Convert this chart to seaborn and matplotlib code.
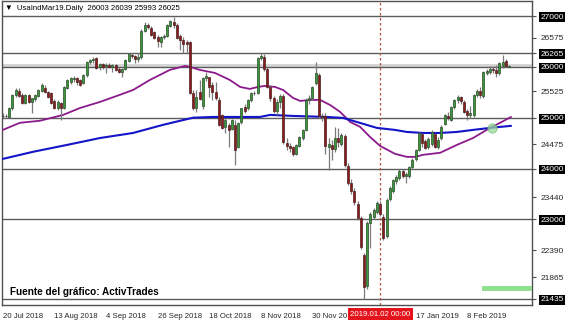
import numpy as np
import pandas as pd
import matplotlib
matplotlib.use("Agg")
import matplotlib.pyplot as plt
import seaborn as sns
from matplotlib.patches import Rectangle
from matplotlib.transforms import blended_transform_factory

# ---------------- data ----------------
opens = [25030, 25040, 25020, 25190, 25440, 25530, 25440, 25290, 25440, 25310,
         25360, 25430, 25520, 25590, 25500, 25480, 25320, 25200, 25280, 25200,
         25590, 25700, 25770, 25790, 25740, 25680, 25830, 26090, 26130, 26170,
         25990, 26050, 26010, 26040, 26000, 26030, 25960, 25900, 25960, 26120,
         26240, 26210, 26150, 26200, 26710, 26820, 26770, 26680, 26580, 26490,
         26580, 26600, 26800, 26880, 26830, 26600, 26520, 26480, 26480, 25480,
         25200, 25500, 25230, 25780, 25800, 25640, 25510, 25350, 25050, 24820,
         24860, 24780, 24860, 24420, 24920, 25210, 25190, 25340, 25490, 25480,
         26170, 26200, 25960, 25610, 25380, 25140, 25310, 25420, 24510, 24450,
         24420, 24290, 24450, 24610, 24760, 25350, 25380, 25690, 25840, 25030,
         25040, 24420, 24470, 24380, 24600, 24480, 24640, 24050, 23720, 23560,
         23300, 23020, 22300, 21700, 22920, 23050, 23150, 23300, 23050, 22680,
         23400, 23560, 23760, 23820, 23950, 23860, 23850, 24030, 24180, 24360,
         24680, 24540, 24420, 24480, 24680, 24430, 24600, 24880, 25040, 24960,
         25210, 25350, 25400, 25310, 25140, 25050, 25060, 25440, 25530, 25430,
         25880, 25900, 25960, 25930, 25880, 26020, 26120, 26003]
highs = [25090, 25080, 25210, 25470, 25580, 25590, 25480, 25460, 25470, 25390,
         25470, 25570, 25680, 25640, 25530, 25510, 25360, 25350, 25310, 25620,
         25770, 25800, 25820, 25810, 25770, 25860, 26110, 26160, 26190, 26190,
         26080, 26070, 26080, 26070, 26060, 26060, 26000, 25980, 26150, 26270,
         26270, 26240, 26280, 26740, 26880, 26860, 26800, 26700, 26630, 26600,
         26640, 26840, 26920, 26980, 26860, 26640, 26580, 26530, 26500, 25540,
         25540, 25740, 25800, 25900, 25800, 25700, 25700, 25400, 25080, 25000,
         24900, 24980, 24950, 24920, 25200, 25260, 25360, 25510, 25520, 26200,
         26270, 26250, 26000, 25640, 25420, 25360, 25470, 25460, 24600, 24500,
         24450, 24480, 24640, 24780, 25380, 25440, 25620, 26100, 25880, 25100,
         25100, 24600, 24560, 24820, 24800, 24700, 24680, 24100, 23800, 23620,
         23360, 23060, 22340, 22960, 23140, 23220, 23360, 23360, 23100, 23420,
         23660, 23800, 23870, 23990, 24000, 23940, 24050, 24200, 24380, 24720,
         24700, 24580, 24620, 24760, 24700, 24620, 24850, 25080, 25110, 25240,
         25370, 25440, 25420, 25340, 25180, 25230, 25470, 25570, 25610, 25920,
         25960, 26010, 26020, 26040, 26090, 26230, 26160, 26039]
lows = [24990, 25000, 24990, 25150, 25400, 25400, 25260, 25270, 25280, 25100,
        25330, 25400, 25500, 25480, 25380, 25270, 25170, 25150, 24960, 25180,
        25560, 25660, 25700, 25640, 25620, 25660, 25800, 26050, 26080, 25950,
        25930, 25960, 25880, 25970, 25900, 25920, 25880, 25800, 25940, 26100,
        26170, 26070, 26100, 26160, 26690, 26740, 26600, 26540, 26400, 26390,
        26540, 26580, 26780, 26760, 26540, 26330, 26270, 26270, 25460, 25150,
        25110, 25340, 25170, 25730, 25410, 25350, 25350, 24840, 24780, 24700,
        24430, 24760, 24070, 24400, 24880, 25100, 25150, 25310, 25440, 25470,
        26130, 25920, 25580, 25330, 25100, 25050, 25200, 24490, 24370, 24330,
        24250, 24260, 24420, 24560, 24740, 25270, 25340, 25640, 24990, 24940,
        24280, 23980, 24170, 24330, 24420, 24440, 24040, 23680, 23500, 23280,
        22980, 22420, 21435, 21640, 22440, 23000, 23100, 23060, 22600, 22640,
        23370, 23520, 23700, 23780, 23820, 23720, 23820, 23990, 24140, 24340,
        24420, 24380, 24390, 24440, 24400, 24380, 24560, 24860, 24950, 24930,
        25180, 25290, 25260, 25100, 24960, 24990, 25020, 25400, 25380, 25390,
        25830, 25860, 25880, 25800, 25840, 25980, 25990, 25993]
closes = [25040, 25030, 25190, 25450, 25540, 25420, 25290, 25440, 25310, 25380,
          25450, 25550, 25650, 25500, 25410, 25290, 25190, 25300, 25200, 25600,
          25740, 25780, 25790, 25710, 25650, 25840, 26090, 26130, 26160, 25980,
          26060, 26000, 26040, 26000, 26030, 25940, 25900, 25960, 26130, 26250,
          26210, 26150, 26190, 26700, 26820, 26780, 26630, 26570, 26500, 26580,
          26600, 26820, 26900, 26820, 26570, 26530, 26440, 26450, 25490, 25190,
          25400, 25360, 25780, 25820, 25610, 25510, 25380, 24860, 24800, 24960,
          24760, 24950, 24370, 24900, 25190, 25130, 25350, 25490, 25480, 26170,
          26210, 25960, 25610, 25380, 25140, 25310, 25420, 24520, 24450, 24400,
          24280, 24460, 24620, 24760, 25350, 25390, 25600, 25880, 25030, 25010,
          24440, 24480, 24380, 24600, 24530, 24660, 24070, 23720, 23560, 23340,
          23030, 22450, 21680, 22930, 23100, 23190, 23320, 23100, 22640, 23390,
          23620, 23770, 23840, 23960, 23860, 23900, 24030, 24170, 24360, 24700,
          24500, 24410, 24590, 24720, 24430, 24560, 24820, 25050, 25000, 25210,
          25350, 25410, 25330, 25120, 25050, 25100, 25440, 25530, 25440, 25900,
          25920, 25960, 25940, 25870, 26070, 26100, 26010, 26025]

ma_purple_bar = [0, 5.3, 11.5, 16.2, 18.7, 23.9, 30.1, 36.3, 40.4, 45.6, 51.8,
                 56.5, 58, 61.1, 65.8, 70.4, 73.6, 76.6, 79.1, 81.3, 84.4, 86.9,
                 90, 92.2, 95.3, 98.4, 101.5, 104.6, 107.7, 110.8, 113.9, 117,
                 121.6, 125.3, 127.8, 130.3, 135.6, 140.8, 145.8, 151.1, 154.2,
                 157.6]
ma_purple_val = [24760, 24900, 24940, 25015, 25055, 25190, 25310, 25450, 25546,
                 25742, 25940, 26018, 26000, 25940, 25880, 25742, 25605, 25566,
                 25605, 25625, 25605, 25546, 25389, 25330, 25349, 25349, 25250,
                 25114, 24917, 24820, 24620, 24445, 24290, 24230, 24230, 24270,
                 24310, 24465, 24600, 24800, 24900, 25015]
ma_blue_bar = [0, 9.4, 19.9, 30.1, 40.4, 49.7, 59, 65.2, 70.4, 79.8, 82.9, 90,
               100.5, 105.5, 110.8, 116, 121.6, 125.3, 130.3, 135.6, 140.8,
               145.8, 151.1, 157.6]
ma_blue_val = [24190, 24330, 24465, 24600, 24700, 24860, 25000, 25015, 25015,
               25015, 25055, 25035, 25015, 24996, 24897, 24800, 24760, 24720,
               24700, 24700, 24720, 24760, 24800, 24840]

level_lines = [27000, 26265, 26000, 25000, 24000, 23000, 21435]
scale_labels = [26575, 25525, 24475, 23440, 22390, 21865]
date_ticks = [0, 16, 32, 48, 64, 80, 96, 128, 144]
date_labels = ["20 Jul 2018", "13 Aug 2018", "4 Sep 2018", "26 Sep 2018",
               "18 Oct 2018", "8 Nov 2018", "30 Nov 2018",
               "17 Jan 2019", "8 Feb 2019"]
cursor_bar = 117
cursor_label = "2019.01.02 00:00"
header = "\u25BC  UsaIndMar19.Daily  26003 26039 25993 26025"
source_text = "Fuente del gráfico: ActivTrades"
cross_bar, cross_val = 151.7, 24792
zone_start, zone_low, zone_high = 148.6, 21595, 21690

# ---------------- style ----------------
sns.set_style("white")
plt.rcParams["font.family"] = ["Liberation Sans", "DejaVu Sans"]
small = 5.6

fig = plt.figure(figsize=(5.67, 3.24), dpi=100)
ax = fig.add_axes([2 / 567, 1 - 305 / 324, 530 / 567, 304 / 324])
x_min, x_max = -0.25, 164.1

df = pd.DataFrame({"bar": np.arange(len(closes)), "open": opens, "high": highs,
                   "low": lows, "close": closes})

# level lines
ax.axhspan(26000, 26060, color="#d6d6d6", lw=0, zorder=1)
for lv in level_lines:
    ax.axhline(lv, color="#5c5c5c", lw=1.0, zorder=2)

# cursor line
ax.axvline(cursor_bar, color="#b5553c", lw=0.9, ls=(0, (2, 2)), zorder=2)

# moving averages
sns.lineplot(x=ma_purple_bar, y=ma_purple_val, ax=ax, color="#8b1a8b", lw=1.3,
             zorder=4, legend=False)
sns.lineplot(x=ma_blue_bar, y=ma_blue_val, ax=ax, color="#1414c8", lw=1.5,
             zorder=4, legend=False)

# candles
ax.vlines(df["bar"], df["low"], df["high"], color="#7a7a7a", lw=0.9, zorder=5)
body_low = np.minimum(df["open"], df["close"])
body_h = np.maximum(np.abs(df["close"] - df["open"]), 12)
up = df["close"] >= df["open"]
ax.bar(df["bar"][up], body_h[up], bottom=body_low[up], width=0.62,
       color="#3a9a3a", edgecolor="#2b4a2b", lw=0.5, zorder=6)
ax.bar(df["bar"][~up], body_h[~up], bottom=body_low[~up], width=0.62,
       color="#8e1b1b", edgecolor="#4a2020", lw=0.5, zorder=6)

# crossing marker
ax.scatter([cross_bar], [cross_val], s=45, color="#9ad89a", alpha=0.75,
           edgecolors="#6cbf6c", linewidths=0.6, zorder=7)

# green zone
ax.add_patch(Rectangle((zone_start, zone_low), x_max - zone_start,
                       zone_high - zone_low, color="#90e090", lw=0, zorder=8))

# axes
ax.set_xlim(x_min, x_max)
ax.set_ylim(21317, 27295)
ax.set_xlabel("")
ax.set_ylabel("")
for s in ax.spines.values():
    s.set_color("#505050")
    s.set_linewidth(1.0)

ax.yaxis.tick_right()
yt = sorted(level_lines + scale_labels)
ax.set_yticks(yt)
ax.set_yticklabels([str(v) for v in yt])
ax.tick_params(axis="y", direction="out", length=3, width=0.8, pad=3,
               labelsize=6.0, color="#505050")
for lbl, v in zip(ax.get_yticklabels(), yt):
    if v in level_lines:
        lbl.set_color("white")
        lbl.set_bbox(dict(facecolor="black", edgecolor="none", pad=1.0))

ax.set_xticks(date_ticks)
ax.set_xticklabels(date_labels, ha="left")
ax.tick_params(axis="x", direction="out", length=4, width=0.8, pad=2,
               labelsize=small, color="#505050")

trans = blended_transform_factory(ax.transData, ax.transAxes)
ax.text(cursor_bar, -0.031, cursor_label, transform=trans, ha="center",
        va="center", fontsize=small, color="white", zorder=20, clip_on=False,
        bbox=dict(facecolor="#e3141c", edgecolor="none", pad=1.8))

ax.text(0.006, 0.988, header, transform=ax.transAxes, ha="left", va="top",
        fontsize=small, color="black", zorder=20)
ax.text(0.015, 0.043, source_text, transform=ax.transAxes, ha="left",
        va="center", fontsize=7.2, fontweight="bold", color="black", zorder=20)

fig.savefig("out.png", dpi=100, facecolor="white")
